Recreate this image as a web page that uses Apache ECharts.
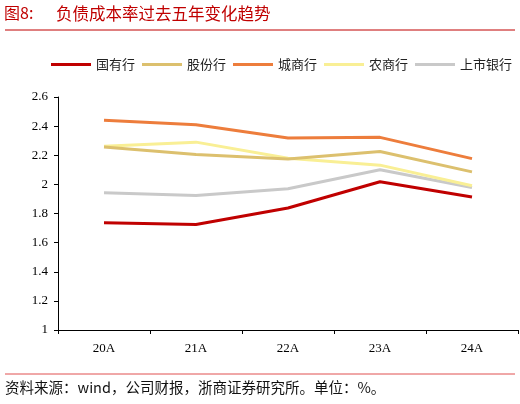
<!DOCTYPE html>
<html>
<head>
<meta charset="utf-8">
<script src="https://cdn.jsdelivr.net/npm/echarts@6/dist/echarts.min.js"></script>
<style>
html, body { margin: 0; padding: 0; background: #fff; }
#chart { width: 520px; height: 404px; }
</style>
</head>
<body>
<div id="chart"></div>
<script>
var categories = ['20A', '21A', '22A', '23A', '24A'];
var seriesNames = ['国有行', '股份行', '城商行', '农商行', '上市银行'];
var guoyou = [1.737, 1.725, 1.838, 2.018, 1.913];
var gufen = [2.257, 2.205, 2.175, 2.226, 2.086];
var chengshang = [2.441, 2.41, 2.318, 2.323, 2.177];
var nongshang = [2.262, 2.29, 2.18, 2.132, 1.99];
var shangshi = [1.943, 1.924, 1.97, 2.1, 1.978];
var lineColors = ['#C00000', '#DCC06E', '#ED7D3C', '#F9EF95', '#C9C9C9'];

var cjk = '"Noto Sans CJK SC", sans-serif';
var serif = '"Liberation Serif", "DejaVu Serif", serif';

var chart = echarts.init(document.getElementById('chart'));
var dataList = [guoyou, gufen, chengshang, nongshang, shangshi];
var series = [];
for (var i = 0; i < seriesNames.length; i++) {
	series.push({
		name: seriesNames[i],
		type: 'line',
		data: dataList[i],
		symbol: 'none',
		lineStyle: { width: 3, color: lineColors[i] },
		itemStyle: { color: lineColors[i] },
		z: 10 - i
	});
}

var option = {
	animation: false,
	backgroundColor: '#fff',
	graphic: [
		{ type: 'text', left: 4, top: 5, style: { text: '图8:', fill: '#C00000', font: '16px ' + cjk } },
		{ type: 'text', left: 56, top: 5, style: { text: '负债成本率过去五年变化趋势', fill: '#C00000', font: '16.5px ' + cjk } },
		{ type: 'line', shape: { x1: 5, y1: 30, x2: 515, y2: 30 }, style: { stroke: '#C00000', lineWidth: 1 } },
		{ type: 'line', shape: { x1: 5, y1: 374, x2: 515, y2: 374 }, style: { stroke: '#E05050', lineWidth: 1 } },
		{ type: 'text', left: 5, top: 380, style: { text: '资料来源：wind，公司财报，浙商证券研究所。单位：%。', fill: '#111', font: '14.5px ' + cjk } }
	],
	legend: {
		data: seriesNames,
		top: 53,
		left: 46,
		itemWidth: 40,
		itemHeight: 3,
		itemGap: 7,
		icon: 'rect',
		textStyle: { color: '#222', fontSize: 13, fontFamily: cjk }
	},
	grid: { left: 58, right: 2, top: 97, bottom: 74 },
	xAxis: {
		type: 'category',
		data: categories,
		boundaryGap: true,
		axisLine: { lineStyle: { color: '#000', width: 1 } },
		axisTick: { show: true, length: 4, lineStyle: { color: '#000' } },
		axisLabel: { color: '#000', fontSize: 13, fontFamily: serif, margin: 12 }
	},
	yAxis: {
		type: 'value',
		min: 1,
		max: 2.6,
		interval: 0.2,
		splitLine: { show: false },
		axisLine: { show: true, lineStyle: { color: '#000', width: 1 } },
		axisTick: { show: true, length: 4, lineStyle: { color: '#000' } },
		axisLabel: { color: '#000', fontSize: 13, fontFamily: serif, margin: 10 }
	},
	series: series
};
chart.setOption(option);
</script>
</body>
</html>
